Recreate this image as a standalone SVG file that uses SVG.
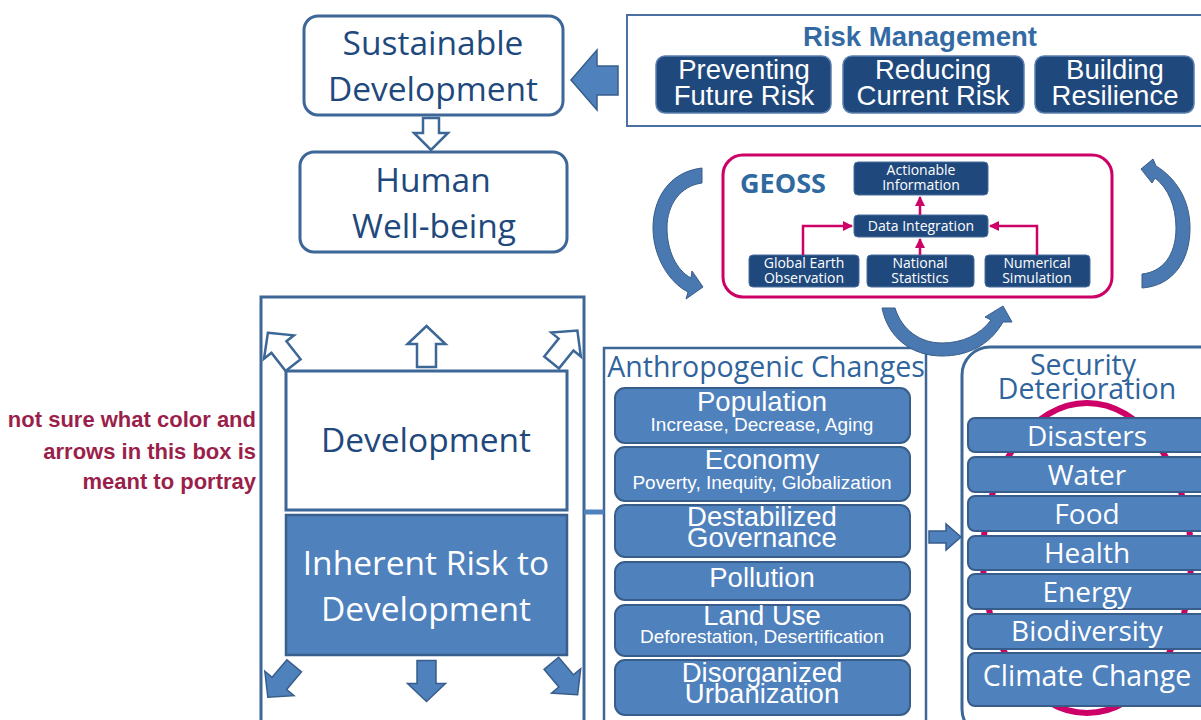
<svg xmlns="http://www.w3.org/2000/svg" width="1201" height="720" viewBox="0 0 1201 720">
  <style>
    .cal { font-family: "Open Sans", "Noto Sans", sans-serif; }
    .ari { font-family: "Liberation Sans", Arial, sans-serif; }
    .frame { fill: #ffffff; stroke: #3d6796; stroke-width: 3; }
    .navy { fill: #1f497d; stroke: #5b7fae; stroke-width: 1.5; }
    .item { fill: #4f81bd; stroke: #385d8a; stroke-width: 2; }
    .geo { fill: #1f497d; stroke: #4a6e9e; stroke-width: 1; }
    .bluearrow { fill: #4f81bd; stroke: #385d8a; stroke-width: 1.5; }
    .hollow { fill: #ffffff; stroke: #3d6796; stroke-width: 2.5; }
    .curve { fill: #4a78b0; stroke: #385d8a; stroke-width: 1; }
    .mag { fill: none; stroke: #cc0066; stroke-width: 2.5; }
    .dark { fill: #1f497d; }
    .mid { fill: #2f649c; }
    .white { fill: #ffffff; }
    .big { font-size: 33.5px; }
    .it { font-size: 27.5px; }
    .sub { font-size: 19px; }
    .sec { font-size: 28px; }
    .gt { font-size: 14px; }
  </style>
  <defs>
    <marker id="mh" viewBox="0 0 10 10" refX="9" refY="5" markerWidth="4" markerHeight="4" orient="auto">
      <path d="M0,0 L10,5 L0,10 Z" fill="#cc0066"/>
    </marker>
    <!-- generic block arrow pointing up, centred on the origin -->
    <path id="blk" d="M0,-20.5 L19,-2.5 L9.5,-2.5 L9.5,20.5 L-9.5,20.5 L-9.5,-2.5 L-19,-2.5 Z"/>
  </defs>

  <rect width="1201" height="720" fill="#ffffff"/>

  <!-- note at left -->
  <g id="note" class="ari" font-weight="bold" font-size="22" fill="#9b1f4b" text-anchor="end">
    <text x="256" y="427">not sure what color and</text>
    <text x="256" y="459">arrows in this box is</text>
    <text x="256" y="489">meant to portray</text>
  </g>

  <!-- Sustainable Development -->
  <g id="sustainable">
    <rect class="frame" x="304" y="16" width="259" height="99" rx="14" stroke-width="2"/>
    <text class="cal dark big" x="433" y="55" text-anchor="middle">Sustainable</text>
    <text class="cal dark big" x="433" y="101" text-anchor="middle">Development</text>
  </g>

  <!-- Human Well-being -->
  <g id="wellbeing">
    <rect class="frame" x="300" y="152" width="267" height="100" rx="14" stroke-width="2"/>
    <text class="cal dark big" x="433" y="192" text-anchor="middle">Human</text>
    <text class="cal dark big" x="434" y="238" text-anchor="middle">Well-being</text>
  </g>

  <!-- Risk Management -->
  <g id="risk-management">
    <rect x="627" y="15" width="580" height="111" fill="#ffffff" stroke="#4a6fa0" stroke-width="2"/>
    <text class="ari" x="920" y="46" font-size="27.5" font-weight="bold" fill="#346aa3" text-anchor="middle">Risk Management</text>
    <rect class="navy" x="656" y="56" width="175" height="57" rx="9"/>
    <text class="ari white it" x="744" y="79" text-anchor="middle">Preventing</text>
    <text class="ari white it" x="744" y="105" text-anchor="middle">Future Risk</text>
    <rect class="navy" x="843" y="56" width="181" height="57" rx="9"/>
    <text class="ari white it" x="933" y="79" text-anchor="middle">Reducing</text>
    <text class="ari white it" x="933" y="105" text-anchor="middle">Current Risk</text>
    <rect class="navy" x="1035" y="56" width="159" height="57" rx="9"/>
    <text class="ari white it" x="1115" y="79" text-anchor="middle">Building</text>
    <text class="ari white it" x="1115" y="105" text-anchor="middle">Resilience</text>
  </g>

  <!-- GEOSS -->
  <g id="geoss">
    <rect x="723" y="155" width="389" height="142" rx="20" fill="#ffffff" stroke="#cc0066" stroke-width="3"/>
    <text class="cal" x="740" y="193" font-size="27" font-weight="bold" fill="#2e6aa0">GEOSS</text>
    <rect class="geo" x="854" y="162" width="134" height="33" rx="4"/>
    <text class="cal white gt" x="921" y="175" text-anchor="middle">Actionable</text>
    <text class="cal white gt" x="921" y="190" text-anchor="middle">Information</text>
    <rect class="geo" x="854" y="215" width="134" height="22" rx="4"/>
    <text class="cal white gt" x="921" y="231" text-anchor="middle">Data Integration</text>
    <rect class="geo" x="749" y="255" width="110" height="32" rx="4"/>
    <text class="cal white gt" x="804" y="268" text-anchor="middle">Global Earth</text>
    <text class="cal white gt" x="804" y="283" text-anchor="middle">Observation</text>
    <rect class="geo" x="867" y="255" width="107" height="32" rx="4"/>
    <text class="cal white gt" x="920" y="268" text-anchor="middle">National</text>
    <text class="cal white gt" x="920" y="283" text-anchor="middle">Statistics</text>
    <rect class="geo" x="985" y="255" width="105" height="32" rx="4"/>
    <text class="cal white gt" x="1037" y="268" text-anchor="middle">Numerical</text>
    <text class="cal white gt" x="1037" y="283" text-anchor="middle">Simulation</text>
    <path class="mag" d="M920,255 L920,239" marker-end="url(#mh)"/>
    <path class="mag" d="M920,215 L920,197" marker-end="url(#mh)"/>
    <path class="mag" d="M803,255 L803,226 L852,226" marker-end="url(#mh)"/>
    <path class="mag" d="M1037,255 L1037,226 L990,226" marker-end="url(#mh)"/>
  </g>

  <!-- Development container -->
  <g id="development-box">
    <rect class="frame" x="261" y="297" width="323" height="440"/>
    <rect class="frame" x="286" y="371" width="281" height="139" stroke-width="2.5"/>
    <text class="cal dark big" x="426" y="452" text-anchor="middle">Development</text>
  </g>

  <g id="inherent-risk">
    <rect x="286" y="515" width="281" height="140" fill="#4f81bd" stroke="#3a5f8c" stroke-width="2.5"/>
    <text class="cal white big" x="426" y="575" text-anchor="middle">Inherent Risk to</text>
    <text class="cal white big" x="426" y="621" text-anchor="middle">Development</text>
  </g>

  <!-- Anthropogenic Changes -->
  <g id="anthropogenic">
    <rect x="604" y="348" width="322" height="390" fill="#ffffff" stroke="#3d6796" stroke-width="2.5"/>
    <text class="cal mid" x="766" y="377" font-size="28.5" text-anchor="middle">Anthropogenic Changes</text>
    <rect class="item" x="615" y="388" width="295" height="55" rx="10"/>
    <text class="ari white it" x="762" y="411" text-anchor="middle">Population</text>
    <text class="ari white sub" x="762" y="431" text-anchor="middle">Increase, Decrease, Aging</text>
    <rect class="item" x="615" y="447" width="295" height="54" rx="10"/>
    <text class="ari white it" x="762" y="469" text-anchor="middle">Economy</text>
    <text class="ari white sub" x="762" y="489" text-anchor="middle">Poverty, Inequity, Globalization</text>
    <rect class="item" x="615" y="505" width="295" height="52" rx="10"/>
    <text class="ari white it" x="762" y="526" text-anchor="middle">Destabilized</text>
    <text class="ari white it" x="762" y="547" text-anchor="middle">Governance</text>
    <rect class="item" x="615" y="562" width="295" height="38" rx="10"/>
    <text class="ari white it" x="762" y="587" text-anchor="middle">Pollution</text>
    <rect class="item" x="615" y="605" width="295" height="51" rx="10"/>
    <text class="ari white it" x="762" y="625" text-anchor="middle">Land Use</text>
    <text class="ari white sub" x="762" y="643" text-anchor="middle">Deforestation, Desertification</text>
    <rect class="item" x="615" y="660" width="295" height="55" rx="10"/>
    <text class="ari white it" x="762" y="682" text-anchor="middle">Disorganized</text>
    <text class="ari white it" x="762" y="703" text-anchor="middle">Urbanization</text>
  </g>

  <!-- Security Deterioration -->
  <g id="security">
    <rect x="962" y="347" width="270" height="390" rx="28" fill="#ffffff" stroke="#3d6796" stroke-width="3"/>
    <text class="cal mid" x="1083" y="375" font-size="28.5" text-anchor="middle">Security</text>
    <text class="cal mid" x="1087" y="399" font-size="28.5" text-anchor="middle">Deterioration</text>
    <ellipse cx="1087" cy="558" rx="104" ry="155" fill="none" stroke="#cc0066" stroke-width="6"/>
    <rect class="item" x="968" y="418" width="245" height="34" rx="7"/>
    <text class="cal white sec" x="1087" y="446" text-anchor="middle">Disasters</text>
    <rect class="item" x="968" y="457" width="245" height="35" rx="7"/>
    <text class="cal white sec" x="1087" y="485" text-anchor="middle">Water</text>
    <rect class="item" x="968" y="496" width="245" height="35" rx="7"/>
    <text class="cal white sec" x="1087" y="524" text-anchor="middle">Food</text>
    <rect class="item" x="968" y="536" width="245" height="34" rx="7"/>
    <text class="cal white sec" x="1087" y="563" text-anchor="middle">Health</text>
    <rect class="item" x="968" y="574" width="245" height="35" rx="7"/>
    <text class="cal white sec" x="1087" y="602" text-anchor="middle">Energy</text>
    <rect class="item" x="968" y="614" width="245" height="35" rx="7"/>
    <text class="cal white sec" x="1087" y="641" text-anchor="middle">Biodiversity</text>
    <rect class="item" x="968" y="653" width="245" height="53" rx="7"/>
    <text class="cal white" x="1087" y="686" font-size="28.5" text-anchor="middle">Climate Change</text>
  </g>

  <!-- connectors -->
  <g id="connectors">
    <!-- risk management to sustainable development -->
    <path class="bluearrow" d="M618,66 L597,66 L597,50 L571,80 L597,110 L597,95 L618,95 Z"/>
    <!-- sustainable development to well-being -->
    <path class="hollow" stroke-width="2" d="M423,118 L439,118 L439,133 L448,133 L431,150 L414,133 L423,133 Z"/>
    <!-- hollow arrows in development container -->
    <use href="#blk" class="hollow" transform="translate(426.5,346.5)"/>
    <use href="#blk" class="hollow" transform="translate(280.5,349) rotate(-38)"/>
    <use href="#blk" class="hollow" transform="translate(564.5,346.5) rotate(39)"/>
    <!-- filled arrows below inherent risk -->
    <use href="#blk" class="bluearrow" transform="translate(426.5,681) rotate(180)"/>
    <use href="#blk" class="bluearrow" transform="translate(281,681.5) rotate(-140)"/>
    <use href="#blk" class="bluearrow" transform="translate(564.5,679) rotate(140)"/>
    <!-- development container to anthropogenic changes -->
    <path d="M584,512 L604,512" stroke="#4f81bd" stroke-width="5"/>
    <!-- anthropogenic changes to security deterioration -->
    <path class="bluearrow" d="M929,531 L946,531 L946,524 L961,537 L946,550 L946,543 L929,543 Z"/>
    <!-- cycle arrows around GEOSS -->
    <path class="curve" d="M702,168 C668,172 653,200 653,228 C653,255 668,282 688,292 L686,299 L703,287 L692,271 L691,278 C676,270 667,250 667,228 C667,205 680,186 702,183 Z"/>
    <path class="curve" d="M1142,288 C1172,286 1190,262 1190,228 C1190,200 1176,178 1156,166 L1153,159 L1141,169 L1152,183 L1155,178 C1168,188 1176,206 1176,228 C1176,256 1162,272 1142,274 Z"/>
    <path class="curve" d="M882,308 L895,308 C902,330 920,343 942,343 C962,343 980,335 991,320 L985,317 L1003,306 L1012,322 L1003,322 C990,345 968,356 942,356 C912,356 888,338 882,308 Z"/>
  </g>
</svg>
